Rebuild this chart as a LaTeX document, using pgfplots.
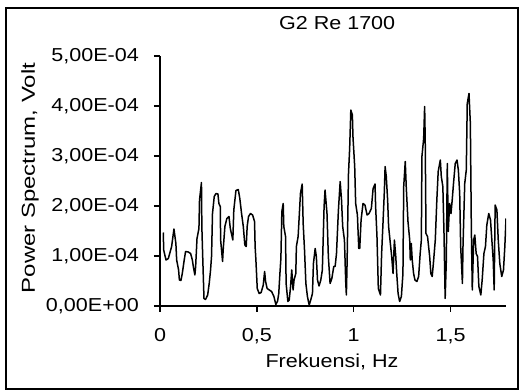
\documentclass[border=0pt]{standalone}
\usepackage{fontspec}
\setmainfont{Liberation Sans}[FakeStretch=1.15]
\newfontfamily\ylabfont{Liberation Sans}[FakeStretch=1.28]
\usepackage{pgfplots}
\pgfplotsset{compat=1.18}
\usepackage{pgfplotstable}
% power spectrum in units of 1e-4 Volt
\pgfplotstableread{
x p
0.017 1.47
0.019 1.12
0.031 0.92
0.043 0.95
0.060 1.19
0.072 1.54
0.082 1.25
0.086 0.92
0.096 0.72
0.100 0.52
0.108 0.51
0.115 0.65
0.125 0.92
0.132 1.09
0.146 1.08
0.158 1.05
0.167 0.92
0.172 0.79
0.180 0.62
0.184 0.79
0.191 1.35
0.201 1.55
0.204 2.12
0.214 2.47
0.216 1.59
0.220 1.05
0.227 0.15
0.235 0.13
0.246 0.22
0.254 0.45
0.261 0.72
0.266 0.99
0.271 1.85
0.280 2.19
0.289 2.25
0.299 2.24
0.304 2.05
0.311 1.99
0.313 1.32
0.323 0.89
0.326 1.12
0.335 1.59
0.345 1.75
0.356 1.79
0.363 1.55
0.376 1.32
0.381 1.92
0.392 2.31
0.404 2.33
0.412 2.15
0.421 1.85
0.430 1.59
0.438 1.22
0.445 1.19
0.450 1.59
0.457 1.79
0.467 1.85
0.478 1.82
0.488 1.69
0.491 1.19
0.495 0.92
0.502 0.35
0.512 0.25
0.522 0.27
0.533 0.42
0.540 0.69
0.545 0.49
0.553 0.35
0.564 0.32
0.576 0.29
0.588 0.19
0.598 0.03
0.607 0.10
0.613 0.25
0.619 0.65
0.624 0.95
0.629 1.89
0.636 2.05
0.639 1.59
0.648 1.39
0.651 0.45
0.660 0.09
0.667 0.12
0.674 0.39
0.680 0.72
0.687 0.32
0.692 0.52
0.701 0.65
0.704 1.19
0.713 1.39
0.725 2.25
0.734 2.44
0.739 1.65
0.746 1.12
0.753 0.45
0.761 0.19
0.770 0.02
0.778 0.12
0.787 0.25
0.792 0.85
0.801 1.15
0.807 0.99
0.813 0.52
0.821 0.40
0.830 0.52
0.838 0.72
0.847 1.99
0.852 2.32
0.862 1.85
0.869 0.99
0.878 0.45
0.887 0.55
0.897 0.79
0.904 0.79
0.911 1.05
0.921 1.92
0.930 2.49
0.937 2.12
0.943 1.59
0.952 1.32
0.959 0.45
0.962 0.22
0.966 0.92
0.973 2.65
0.979 3.15
0.985 3.92
0.993 3.82
0.996 3.39
1.005 2.79
1.010 2.05
1.019 1.82
1.026 1.15
1.031 1.15
1.038 1.72
1.048 2.05
1.058 2.02
1.069 1.82
1.079 1.85
1.091 1.95
1.100 2.35
1.110 2.44
1.113 1.99
1.120 1.39
1.127 0.35
1.138 0.22
1.144 1.05
1.151 1.65
1.158 2.29
1.162 2.79
1.168 2.59
1.175 2.12
1.180 1.59
1.189 1.25
1.196 0.99
1.203 0.65
1.210 1.32
1.217 0.99
1.222 0.65
1.229 0.25
1.237 0.09
1.246 0.19
1.254 0.65
1.258 2.39
1.266 2.89
1.271 2.39
1.280 1.69
1.289 1.32
1.292 0.92
1.297 1.25
1.302 0.92
1.309 0.65
1.316 0.52
1.326 0.49
1.335 0.59
1.343 1.05
1.349 1.32
1.352 2.99
1.361 3.35
1.366 3.99
1.369 3.32
1.373 1.45
1.381 1.39
1.392 0.99
1.398 0.65
1.405 0.59
1.412 0.89
1.421 1.32
1.429 2.12
1.436 2.69
1.447 2.92
1.452 2.59
1.460 2.39
1.466 1.45
1.472 0.15
1.478 0.92
1.483 2.85
1.488 1.49
1.495 2.05
1.502 1.85
1.509 2.15
1.515 2.45
1.524 2.85
1.533 2.92
1.540 2.72
1.547 2.25
1.552 1.19
1.557 0.79
1.561 0.45
1.564 1.19
1.573 2.45
1.581 2.72
1.586 4.05
1.595 4.25
1.602 3.65
1.607 1.59
1.612 0.32
1.619 1.32
1.625 1.42
1.632 1.05
1.639 0.99
1.646 0.39
1.656 0.22
1.663 0.52
1.672 1.05
1.680 1.19
1.687 1.62
1.697 1.85
1.706 1.72
1.713 1.32
1.720 0.92
1.725 0.32
1.730 2.02
1.739 1.92
1.746 1.32
1.754 0.85
1.764 0.59
1.773 0.72
1.780 1.19
1.786 1.75
}\spectrum
\begin{document}
\begin{tikzpicture}
\path[use as bounding box] (0,0) rectangle (520bp,390bp);
\draw[line width=2bp] (6bp,1bp) rectangle (518bp,382bp);
\begin{axis}[
  at={(160bp,84bp)}, anchor=south west,
  scale only axis, width=346bp, height=250bp,
  xmin=0, xmax=1.786, ymin=0, ymax=5,
  axis x line=bottom, axis y line=left,
  axis line style={line width=1.3bp,-},
  tick style={line width=1.3bp,black},
  tick align=outside, major tick length=6bp,
  font=\fontsize{18.8}{21}\selectfont,
  /pgf/number format/assume math mode=true,
  xtick={0,0.5,1,1.5}, xticklabels={0,{0,5},1,{1,5}},
  ytick={0,1,2,3,4,5},
  yticklabels={{0,00E+00},{1,00E-04},{2,00E-04},{3,00E-04},{4,00E-04},{5,00E-04}},
  xticklabel style={inner sep=0pt, anchor=base, yshift=-29bp},
  yticklabel style={inner sep=0pt, anchor=east, xshift=-15bp},
  xlabel={Frekuensi, Hz},
  xlabel style={at={(axis description cs:0.497,-0.248)}, anchor=base, inner sep=0pt},
  ylabel={\ylabfont Power Spectrum, Volt},
  ylabel style={at={(axis description cs:-0.3613,0.512)}, anchor=base, inner sep=0pt},
  title={G2 Re 1700},
  title style={at={(axis description cs:0.512,1.084)}, anchor=base, inner sep=0pt},
]
\addplot[black, line width=1.5bp, line join=round] table[x=x, y=p] {\spectrum};
\end{axis}
\end{tikzpicture}
\end{document}
